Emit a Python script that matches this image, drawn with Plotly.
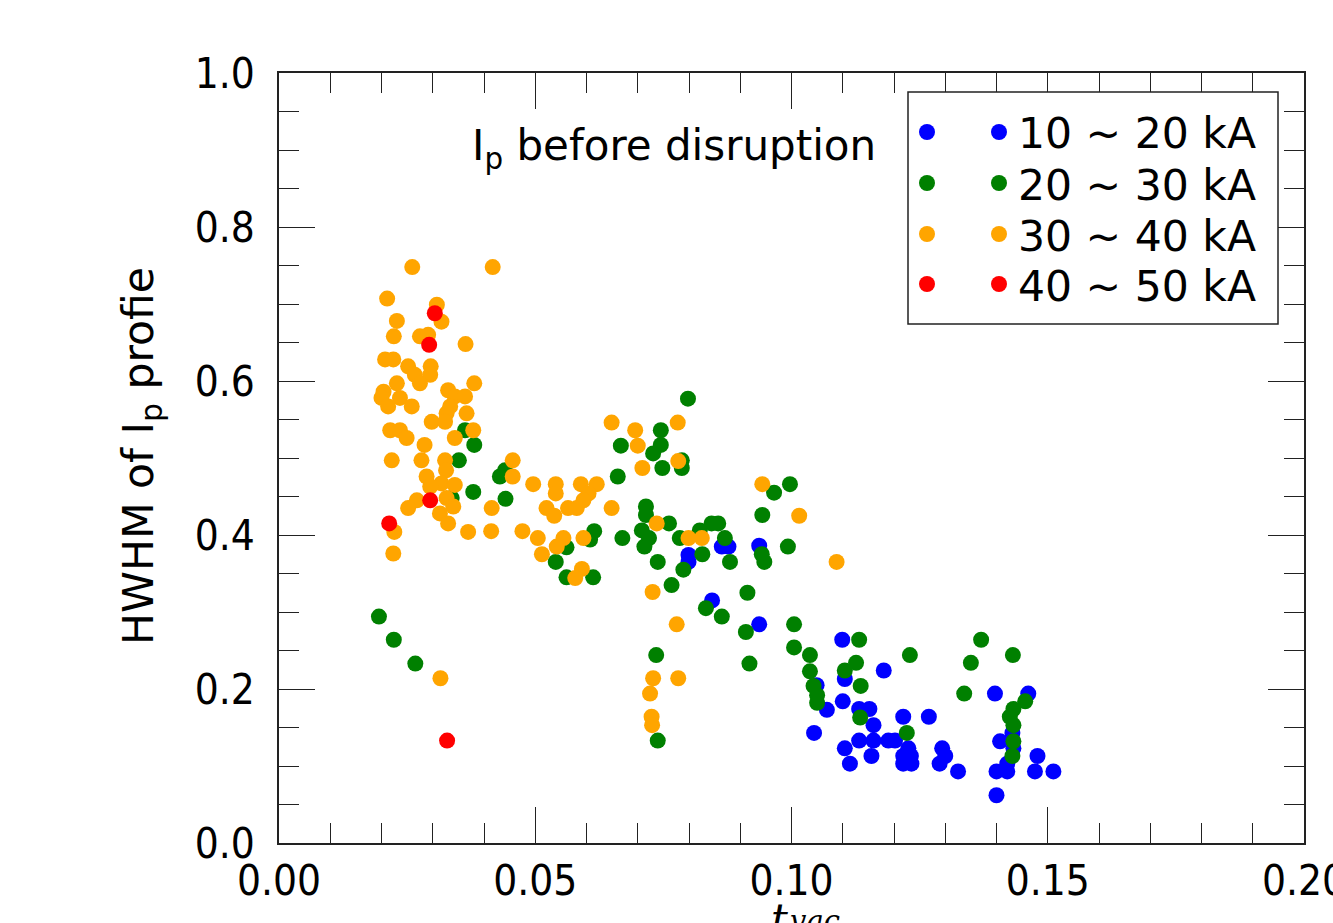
import plotly.graph_objects as go

# HWHM of the Ip profile against t_vac, grouped by plasma current before disruption
x_10_20 = [0.0799, 0.0799, 0.0877, 0.0864, 0.0937, 0.0845, 0.0937, 0.1044, 0.1099, 0.1104,
           0.1180, 0.1397, 0.1462, 0.1407, 0.1431, 0.1433, 0.1421, 0.1400, 0.1421, 0.1400,
           0.1480, 0.1475, 0.1511, 0.1049, 0.1069, 0.1100, 0.1132, 0.1152, 0.1160, 0.1104,
           0.1114, 0.1132, 0.1160, 0.1156, 0.1189, 0.1202, 0.1218, 0.1228, 0.1218, 0.1233,
           0.1218, 0.1234, 0.1268, 0.1294, 0.1300, 0.1289, 0.1325]
y_10_20 = [0.374, 0.365, 0.385, 0.385, 0.386, 0.315, 0.284, 0.143, 0.264, 0.213,
           0.224, 0.194, 0.194, 0.132, 0.143, 0.123, 0.103, 0.093, 0.093, 0.062,
           0.113, 0.093, 0.093, 0.205, 0.173, 0.184, 0.174, 0.174, 0.153, 0.123,
           0.103, 0.133, 0.133, 0.113, 0.133, 0.133, 0.164, 0.123, 0.113, 0.113,
           0.103, 0.103, 0.164, 0.123, 0.113, 0.103, 0.093]

x_20_30 = [0.0363, 0.0381, 0.0351, 0.0379, 0.0337, 0.0431, 0.0441, 0.0442, 0.0195, 0.0224,
           0.0266, 0.0798, 0.0745, 0.0667, 0.0745, 0.0730, 0.0748, 0.0786, 0.0786, 0.0661,
           0.0716, 0.0716, 0.0761, 0.0708, 0.0722, 0.0713, 0.0670, 0.0561, 0.0615, 0.0607,
           0.0540, 0.0561, 0.0613, 0.0739, 0.0789, 0.0766, 0.0782, 0.0821, 0.0844, 0.0857,
           0.0870, 0.0880, 0.0826, 0.0942, 0.0947, 0.0993, 0.0966, 0.0997, 0.0943, 0.0833,
           0.0864, 0.0914, 0.0911, 0.1005, 0.0736, 0.0918, 0.1005, 0.1036, 0.1036, 0.0739,
           0.1132, 0.1126, 0.1104, 0.1231, 0.1135, 0.1370, 0.1350, 0.1432, 0.1337, 0.1456,
           0.1433, 0.1426, 0.1433, 0.1433, 0.1431, 0.1043, 0.1050, 0.1050, 0.1134, 0.1225]
y_20_30 = [0.536, 0.517, 0.497, 0.456, 0.448, 0.476, 0.484, 0.447, 0.294, 0.264,
           0.233, 0.577, 0.536, 0.516, 0.517, 0.506, 0.487, 0.487, 0.497, 0.476,
           0.437, 0.426, 0.415, 0.406, 0.396, 0.385, 0.396, 0.384, 0.405, 0.394,
           0.365, 0.345, 0.345, 0.365, 0.355, 0.335, 0.396, 0.406, 0.415, 0.415,
           0.396, 0.365, 0.375, 0.375, 0.365, 0.385, 0.455, 0.466, 0.426, 0.305,
           0.294, 0.325, 0.274, 0.284, 0.244, 0.233, 0.254, 0.244, 0.223, 0.133,
           0.264, 0.234, 0.224, 0.244, 0.204, 0.264, 0.234, 0.244, 0.194, 0.184,
           0.174, 0.164, 0.153, 0.132, 0.113, 0.204, 0.192, 0.182, 0.163, 0.143]

x_30_40 = [0.0260, 0.0417, 0.0211, 0.0308, 0.0317, 0.0230, 0.0224, 0.0275, 0.0291, 0.0364,
           0.0207, 0.0223, 0.0252, 0.0296, 0.0265, 0.0295, 0.0275, 0.0230, 0.0381, 0.0204,
           0.0200, 0.0236, 0.0213, 0.0259, 0.0330, 0.0343, 0.0363, 0.0334, 0.0366, 0.0327,
           0.0298, 0.0324, 0.0217, 0.0236, 0.0249, 0.0379, 0.0343, 0.0284, 0.0220, 0.0278,
           0.0324, 0.0326, 0.0288, 0.0317, 0.0343, 0.0295, 0.0269, 0.0252, 0.0327, 0.0340,
           0.0314, 0.0330, 0.0415, 0.0456, 0.0456, 0.0225, 0.0369, 0.0414, 0.0223, 0.0315,
           0.0649, 0.0695, 0.0778, 0.0700, 0.0709, 0.0779, 0.0496, 0.0540, 0.0540, 0.0589,
           0.0620, 0.0604, 0.0594, 0.0522, 0.0564, 0.0581, 0.0537, 0.0649, 0.0737, 0.0475,
           0.0505, 0.0513, 0.0555, 0.0542, 0.0594, 0.0591, 0.0578, 0.0729, 0.0799, 0.0825,
           0.0943, 0.1015, 0.1088, 0.0776, 0.0730, 0.0779, 0.0724, 0.0727, 0.0728]
y_30_40 = [0.748, 0.748, 0.707, 0.699, 0.677, 0.678, 0.658, 0.658, 0.660, 0.648,
           0.628, 0.628, 0.619, 0.619, 0.608, 0.608, 0.597, 0.597, 0.597, 0.586,
           0.578, 0.578, 0.567, 0.567, 0.588, 0.580, 0.580, 0.567, 0.558, 0.558,
           0.547, 0.547, 0.536, 0.536, 0.526, 0.536, 0.526, 0.517, 0.497, 0.497,
           0.497, 0.484, 0.476, 0.467, 0.465, 0.463, 0.445, 0.435, 0.448, 0.437,
           0.428, 0.415, 0.435, 0.497, 0.476, 0.404, 0.404, 0.405, 0.376, 0.214,
           0.546, 0.536, 0.546, 0.516, 0.487, 0.496, 0.466, 0.466, 0.454, 0.466,
           0.466, 0.454, 0.445, 0.435, 0.435, 0.435, 0.425, 0.435, 0.415, 0.405,
           0.396, 0.375, 0.396, 0.385, 0.396, 0.356, 0.344, 0.326, 0.396, 0.396,
           0.466, 0.425, 0.365, 0.284, 0.214, 0.214, 0.194, 0.164, 0.153]

x_40_50 = [0.0304, 0.0293, 0.0295, 0.0215, 0.0328]
y_40_50 = [0.688, 0.647, 0.445, 0.415, 0.133]

series_labels = ["10 ~ 20 kA", "20 ~ 30 kA", "30 ~ 40 kA", "40 ~ 50 kA"]
series_colors = ["#0000ff", "#008000", "#ffa500", "#ff0000"]
series_x = [x_10_20, x_20_30, x_30_40, x_40_50]
series_y = [y_10_20, y_20_30, y_30_40, y_40_50]

x_ticks = [0.00, 0.05, 0.10, 0.15, 0.20]
x_ticktext = ["0.00", "0.05", "0.10", "0.15", "0.20"]
y_ticks = [0.0, 0.2, 0.4, 0.6, 0.8, 1.0]
y_ticktext = ["0.0", "0.2", "0.4", "0.6", "0.8", "1.0"]

TICK_FONT = dict(family="DejaVu Sans Condensed, DejaVu Sans", size=42, color="black")
TEXT_FONT = dict(family="DejaVu Sans", size=42.5, color="black")
MARKER_PX = 16

fig = go.Figure()
for xs, ys, lab, col in zip(series_x, series_y, series_labels, series_colors):
    fig.add_trace(go.Scatter(
        x=xs, y=ys, mode="markers", name=lab, showlegend=False,
        marker=dict(size=MARKER_PX, color=col, line=dict(width=0)),
        cliponaxis=False,
    ))

axis_common = dict(
    showgrid=False, zeroline=False, showline=True, linecolor="#222222", linewidth=1.5,
    mirror="allticks", ticks="inside", ticklen=36, tickwidth=1.2, tickcolor="#222222",
    tickfont=TICK_FONT, ticklabeloverflow="allow", automargin=False,
)
fig.update_xaxes(
    range=[0, 0.2000001], tickvals=x_ticks, ticktext=x_ticktext,
    minor=dict(dtick=0.01, ticks="inside", ticklen=20, tickwidth=1.2, tickcolor="#222222"),
    ticklabelstandoff=0, **axis_common,
)
fig.update_yaxes(
    range=[0, 1.0], tickvals=y_ticks, ticktext=y_ticktext,
    minor=dict(dtick=0.05, ticks="inside", ticklen=20, tickwidth=1.2, tickcolor="#222222"),
    ticklabelstandoff=14, **axis_common,
)

L, R, T, B = 279, 29, 73, 80
W, H = 1333, 923
pw, ph = W - L - R, H - T - B


def px_x(p):
    return (p - L) / pw


def px_y(p):
    return (H - B - p) / ph


shapes = []
annotations = []

# legend frame with two key markers per entry
shapes.append(dict(type="rect", xref="paper", yref="paper", layer="above",
                   x0=px_x(908), x1=px_x(1278), y0=px_y(324), y1=px_y(92),
                   line=dict(color="#222222", width=1.5), fillcolor="white"))
row_y = [132, 183, 234, 284]
for ry, lab, col in zip(row_y, series_labels, series_colors):
    for kx in (927, 999):
        shapes.append(dict(type="circle", xref="paper", yref="paper", layer="above",
                           xsizemode="pixel", ysizemode="pixel",
                           xanchor=px_x(kx), yanchor=px_y(ry),
                           x0=-MARKER_PX / 2, x1=MARKER_PX / 2,
                           y0=-MARKER_PX / 2, y1=MARKER_PX / 2,
                           fillcolor=col, line=dict(width=0)))
    annotations.append(dict(text=lab, xref="paper", yref="paper", x=px_x(1016), y=px_y(ry + 2),
                            xanchor="left", yanchor="middle", showarrow=False, font=TEXT_FONT))

annotations.append(dict(text="I<sub>p</sub> before disruption", xref="paper", yref="paper",
                        x=px_x(470), y=px_y(148), xanchor="left", yanchor="middle",
                        showarrow=False, font=dict(family="DejaVu Sans", size=42, color="black")))
annotations.append(dict(text="HWHM of I<sub>p</sub> profie", xref="paper", yref="paper",
                        x=px_x(141), y=px_y(456), xanchor="center", yanchor="middle",
                        textangle=-90, showarrow=False, font=TEXT_FONT))
# x-axis title t_vac: main symbol and its subscript, partly below the page edge
annotations.append(dict(text="<i>t</i>", xref="paper", yref="paper",
                        x=px_x(790), y=px_y(893), xanchor="right", yanchor="top",
                        showarrow=False, font=dict(family="DejaVu Serif", size=42, color="black")))
annotations.append(dict(text="<i>vac</i>", xref="paper", yref="paper",
                        x=px_x(788), y=px_y(902), xanchor="left", yanchor="top",
                        showarrow=False, font=dict(family="DejaVu Serif", size=29, color="black")))

fig.update_layout(
    width=W, height=H, margin=dict(l=L, r=R, t=T, b=B, pad=0, autoexpand=False),
    paper_bgcolor="white", plot_bgcolor="white",
    shapes=shapes, annotations=annotations, showlegend=False,
)

fig.write_html("out.html")
